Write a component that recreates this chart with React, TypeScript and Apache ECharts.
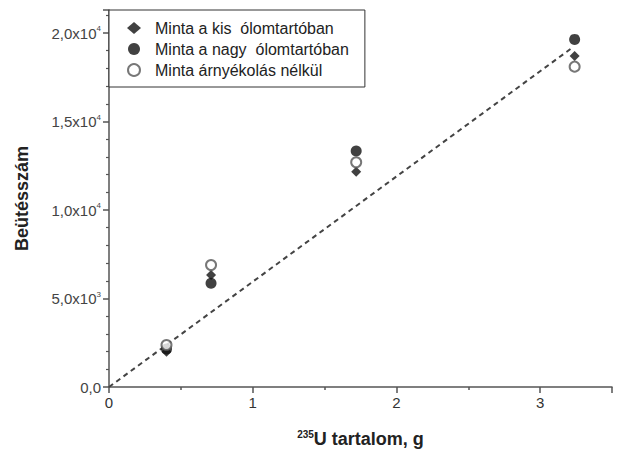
import React, { useEffect, useRef } from "react";
import * as echarts from "echarts";

const seriesNames = [
  "Minta a kis  ólomtartóban",
  "Minta a nagy  ólomtartóban",
  "Minta árnyékolás nélkül",
];
const xValues = [0.4, 0.71, 1.72, 3.24];
const smallShield = [1990, 6330, 12160, 18700];
const largeShield = [2150, 5860, 13330, 19640];
const noShield = [2370, 6890, 12700, 18100];
const fitLine = [
  [0, 0],
  [3.22, 19150],
];
const yTickLabels: Record<number, string> = {
  0: "{m|0,0}",
  5000: "{m|5,0x10}{s|3}",
  10000: "{m|1,0x10}{s|4}",
  15000: "{m|1,5x10}{s|4}",
  20000: "{m|2,0x10}{s|4}",
};

export default function App() {
  const ref = useRef<HTMLDivElement>(null);
  useEffect(() => {
    if (!ref.current) return;
    const chart = echarts.init(ref.current, undefined, { renderer: "svg" });
    const font = "Liberation Sans, Arial, sans-serif";
    const axisColor = "#555";
    chart.setOption({
      animation: false,
      backgroundColor: "#fff",
      textStyle: { fontFamily: font },
      grid: { left: 109, right: 9, top: 10, bottom: 66 },
      legend: {
        orient: "vertical",
        left: 109,
        top: 10,
        padding: [10, 16, 9, 18],
        itemGap: 5,
        itemWidth: 14,
        itemHeight: 12,
        borderColor: "#333",
        borderWidth: 1,
        backgroundColor: "#fff",
        textStyle: { fontSize: 16, color: "#222", fontFamily: font, padding: [0, 0, 0, 9] },
        data: seriesNames.map((n) => ({ name: n })),
      },
      xAxis: {
        type: "value",
        min: 0,
        max: 3.5,
        interval: 1,
        splitLine: { show: false },
        axisLine: { onZero: false, lineStyle: { color: axisColor, width: 1.5 } },
        axisTick: { length: 6, lineStyle: { color: axisColor, width: 1.5 } },
        minorTick: { show: true, splitNumber: 2, length: 3, lineStyle: { color: axisColor, width: 1.5 } },
        axisLabel: {
          fontSize: 15,
          color: "#333",
          margin: 8,
          formatter: (v: number) => (Number.isInteger(v) ? String(v) : ""),
        },
        name: "{s|235}{b|U tartalom, g}",
        nameLocation: "middle",
        nameGap: 42,
        nameTextStyle: {
          rich: {
            s: { fontSize: 10, fontWeight: "bold", color: "#222", verticalAlign: "top", padding: [0, 0, 9, 0], fontFamily: font },
            b: { fontSize: 18, fontWeight: "bold", color: "#222", fontFamily: font },
          },
        },
      },
      yAxis: {
        type: "value",
        min: 0,
        max: 21300,
        interval: 5000,
        splitLine: { show: false },
        axisLine: { lineStyle: { color: axisColor, width: 1.5 } },
        axisTick: { length: 6, lineStyle: { color: axisColor, width: 1.5 } },
        minorTick: { show: true, splitNumber: 5, length: 3, lineStyle: { color: axisColor, width: 1.2 } },
        axisLabel: {
          margin: 8,
          formatter: (v: number) => yTickLabels[v] ?? "",
          rich: {
            m: { fontSize: 15, color: "#444", fontFamily: font },
            s: { fontSize: 8, color: "#444", verticalAlign: "top", padding: [0, 0, 9, 0], fontFamily: font },
          },
        },
        name: "Beütésszám",
        nameLocation: "middle",
        nameGap: 78,
        nameTextStyle: { fontSize: 18, fontWeight: "bold", color: "#222", fontFamily: font },
      },
      series: [
        {
          type: "line",
          data: fitLine,
          symbol: "none",
          silent: true,
          lineStyle: { color: "#444", width: 2, type: [5, 4] },
          z: 1,
        },
        {
          name: seriesNames[0],
          type: "scatter",
          symbol: "diamond",
          symbolSize: 10,
          itemStyle: { color: "#111" },
          data: xValues.map((x, i) => [x, smallShield[i]]),
          z: 2,
        },
        {
          name: seriesNames[1],
          type: "scatter",
          symbol: "circle",
          symbolSize: 11,
          itemStyle: { color: "#111" },
          data: xValues.map((x, i) => [x, largeShield[i]]),
          z: 3,
        },
        {
          name: seriesNames[2],
          type: "scatter",
          symbol: "emptyCircle",
          symbolSize: 10,
          itemStyle: { color: "#555", borderWidth: 1.3 },
          data: xValues.map((x, i) => [x, noShield[i]]),
          z: 4,
        },
      ],
    });
    return () => chart.dispose();
  }, []);
  return (
    <div
      ref={ref}
      style={{ position: "fixed", left: 0, top: 0, width: 621, height: 453 }}
    />
  );
}
